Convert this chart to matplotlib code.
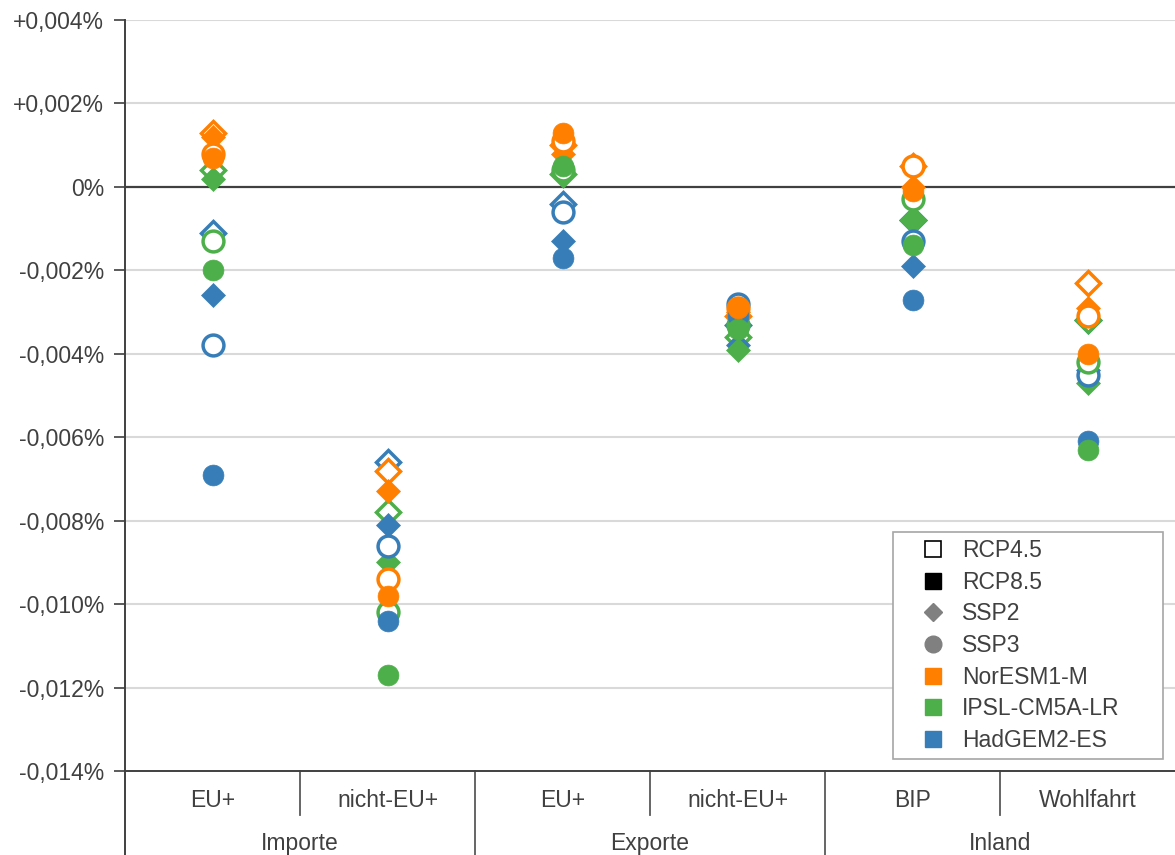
import numpy as np
import matplotlib
matplotlib.use('Agg')
import matplotlib.pyplot as plt
from matplotlib.lines import Line2D
import matplotlib.transforms as mtransforms

plt.rcParams['font.family'] = ['Liberation Sans', 'DejaVu Sans']

# categories and groups on the x axis
categories = ['EU+', 'nicht-EU+', 'EU+', 'nicht-EU+', 'BIP', 'Wohlfahrt']
groups = ['Importe', 'Exporte', 'Inland']

yticks = [0.004, 0.002, 0.0, -0.002, -0.004, -0.006, -0.008, -0.010, -0.012, -0.014]
ytick_labels = ['+0,004%', '+0,002%', '0%', '-0,002%', '-0,004%', '-0,006%',
                '-0,008%', '-0,010%', '-0,012%', '-0,014%']

# changes in percent, one value per category
# NorESM1-M
nor_rcp45_ssp2 = [0.0013, -0.0068, 0.0010, -0.0031, 0.0005, -0.0023]
nor_rcp85_ssp2 = [0.0012, -0.0073, 0.0008, -0.0030, 0.0000, -0.0029]
nor_rcp45_ssp3 = [0.0008, -0.0094, 0.0011, -0.0029, 0.0005, -0.0031]
nor_rcp85_ssp3 = [0.0007, -0.0098, 0.0013, -0.0029, -0.0001, -0.0040]
# IPSL-CM5A-LR
ipsl_rcp45_ssp2 = [0.0004, -0.0078, 0.0003, -0.0036, -0.0008, -0.0032]
ipsl_rcp85_ssp2 = [0.0002, -0.0090, 0.0003, -0.0039, -0.0008, -0.0047]
ipsl_rcp45_ssp3 = [-0.0013, -0.0102, 0.0004, -0.0033, -0.0003, -0.0042]
ipsl_rcp85_ssp3 = [-0.0020, -0.0117, 0.0005, -0.0034, -0.0014, -0.0063]
# HadGEM2-ES
had_rcp45_ssp2 = [-0.0011, -0.0066, -0.0004, -0.0033, -0.0008, -0.0032]
had_rcp85_ssp2 = [-0.0026, -0.0081, -0.0013, -0.0038, -0.0019, -0.0044]
had_rcp45_ssp3 = [-0.0038, -0.0086, -0.0006, -0.0028, -0.0013, -0.0045]
had_rcp85_ssp3 = [-0.0069, -0.0104, -0.0017, -0.0031, -0.0027, -0.0061]

ORANGE = '#FF7F00'
GREEN = '#4DAF4A'
BLUE = '#377EB8'
TEXT = '#404040'
AXIS = '#404040'
FS = 16.5

models = [
    (BLUE, had_rcp45_ssp2, had_rcp85_ssp2, had_rcp45_ssp3, had_rcp85_ssp3),
    (GREEN, ipsl_rcp45_ssp2, ipsl_rcp85_ssp2, ipsl_rcp45_ssp3, ipsl_rcp85_ssp3),
    (ORANGE, nor_rcp45_ssp2, nor_rcp85_ssp2, nor_rcp45_ssp3, nor_rcp85_ssp3),
]

fig = plt.figure(figsize=(11.75, 8.55), dpi=100)
ax = fig.add_axes([0.1064, 0.0982, 0.8936, 0.8784])

x = np.arange(len(categories)) + 0.5

# draw order: open diamonds, filled diamonds, open circles, filled circles
for slot in range(4):
    for color, *series in models:
        vals = series[slot]
        marker = 'D' if slot < 2 else 'o'
        size = 12.5 if marker == 'D' else 15
        filled = slot % 2 == 1
        ax.plot(x, vals, linestyle='none', marker=marker, markersize=size,
                markerfacecolor=color if filled else 'white',
                markeredgecolor=color, markeredgewidth=2.5 if not filled else 0.5,
                zorder=3)

ax.set_xlim(0, 6)
ax.set_ylim(-0.014, 0.004)
ax.set_yticks(yticks)
ax.set_yticklabels(ytick_labels, fontsize=FS, color=TEXT)
ax.tick_params(axis='y', length=8, width=1.2, color=AXIS, pad=7)
ax.set_xticks([])

for y in yticks:
    if y == 0:
        ax.axhline(y, color=AXIS, lw=1.6, zorder=2)
    elif y > -0.014:
        ax.axhline(y, color='#d9d9d9', lw=1.5, zorder=1)

for side in ['top', 'right']:
    ax.spines[side].set_visible(False)
ax.spines['left'].set_color(AXIS)
ax.spines['left'].set_linewidth(1.4)
ax.spines['bottom'].set_color(AXIS)
ax.spines['bottom'].set_linewidth(1.4)

# category labels and separators below the axis
trans = mtransforms.blended_transform_factory(ax.transData, ax.transAxes)
for xi, lab in zip(x, categories):
    ax.text(xi, -0.039, lab, transform=trans, ha='center', va='center',
            fontsize=FS, color=TEXT)
for gi, lab in enumerate(groups):
    ax.text(2 * gi + 1, -0.096, lab, transform=trans, ha='center', va='center',
            fontsize=FS, color=TEXT)
for xs in [1, 3, 5]:
    ax.add_line(Line2D([xs, xs], [0, -0.059], transform=trans, color='#595959',
                       lw=1.3, clip_on=False))
for xs in [2, 4]:
    ax.add_line(Line2D([xs, xs], [0, -0.12], transform=trans, color='#595959',
                       lw=1.3, clip_on=False))
ax.add_line(Line2D([0, 0], [0, -0.12], transform=trans, color=AXIS,
                   lw=1.4, clip_on=False))

# legend explaining marker fill, shape and colour
handles = [
    Line2D([], [], ls='none', marker='s', ms=12, mfc='white', mec='black', mew=1.2),
    Line2D([], [], ls='none', marker='s', ms=12, mfc='black', mec='black'),
    Line2D([], [], ls='none', marker='D', ms=9, mfc='#808080', mec='#808080'),
    Line2D([], [], ls='none', marker='o', ms=12, mfc='#808080', mec='#808080'),
    Line2D([], [], ls='none', marker='s', ms=12, mfc=ORANGE, mec=ORANGE),
    Line2D([], [], ls='none', marker='s', ms=12, mfc=GREEN, mec=GREEN),
    Line2D([], [], ls='none', marker='s', ms=12, mfc=BLUE, mec=BLUE),
]
labels = ['RCP4.5', 'RCP8.5', 'SSP2', 'SSP3', 'NorESM1-M', 'IPSL-CM5A-LR', 'HadGEM2-ES']
leg = ax.legend(handles, labels, loc='upper left',
                bbox_to_anchor=(0.7314, 0.0186, 0.2571, 0.2996), mode='expand',
                fontsize=FS, frameon=True, fancybox=False, framealpha=1,
                edgecolor='#a6a6a6', labelspacing=0.38, handletextpad=-0.2,
                handlelength=2.9, borderpad=0.3, borderaxespad=0.0,
                labelcolor=TEXT)
leg.get_frame().set_linewidth(1.2)
leg.set_zorder(5)

fig.savefig('out.png', dpi=100)
